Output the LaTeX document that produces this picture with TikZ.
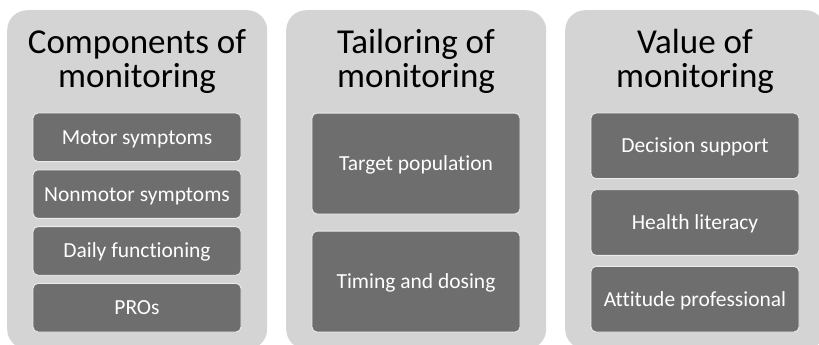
\documentclass[tikz,border=0pt]{standalone}
\usepackage{fontspec}
\setmainfont{Carlito}[Ligatures={NoCommon,NoContextual}]
\definecolor{panelgray}{RGB}{212,212,212}
\definecolor{boxgray}{RGB}{110,110,110}
\begin{document}
\begin{tikzpicture}[x=1pt,y=-1pt,
  panel/.style={draw=none, fill=panelgray, rounded corners=20pt,
    minimum width=260pt, minimum height=339pt, inner sep=0pt, anchor=north west},
  title/.style={align=center, inner sep=0pt, anchor=base, text=black,
    font=\fontsize{35}{34}\selectfont},
  item/.style={fill=boxgray, draw=white!92!black, line width=0.9pt, rounded corners=5pt,
    minimum width=208pt, inner sep=0pt, text=white,
    text height=18pt, text depth=4pt, font=\fontsize{21.5}{24}\selectfont}
]
\useasboundingbox (0,0) rectangle (819,345);
\clip (0,0) rectangle (819,345);

% background panels
\node[panel] (pa) at (7,10) {};
\node[panel] (pb) at (286,10) {};
\node[panel] (pc) at (565,10) {};

% column headings (anchored on the baseline of the second line)
\node[title] (ta) at (137,87) {Components of\\monitoring};
\node[title] (tb) at (416,87) {Tailoring of\\monitoring};
\node[title] (tc) at (695,87) {Value of\\monitoring};

% components
\node[item, minimum height=48.6pt] (a1) at (137,137.3) {Motor symptoms};
\node[item, minimum height=48.6pt] (a2) at (137,194.1) {Nonmotor symptoms};
\node[item, minimum height=48.6pt] (a3) at (137,250.9) {Daily functioning};
\node[item, minimum height=48.6pt] (a4) at (137,307.7) {PROs};

% tailoring
\node[item, minimum height=100.9pt] (b1) at (416,163.5) {Target population};
\node[item, minimum height=100.9pt] (b2) at (416,281.6) {Timing and dosing};

% value
\node[item, minimum height=65.6pt] (c1) at (695,145.8) {Decision support};
\node[item, minimum height=65.6pt] (c2) at (695,222.5) {Health literacy};
\node[item, minimum height=65.6pt] (c3) at (695,299.2) {Attitude professional};
\end{tikzpicture}
\end{document}
